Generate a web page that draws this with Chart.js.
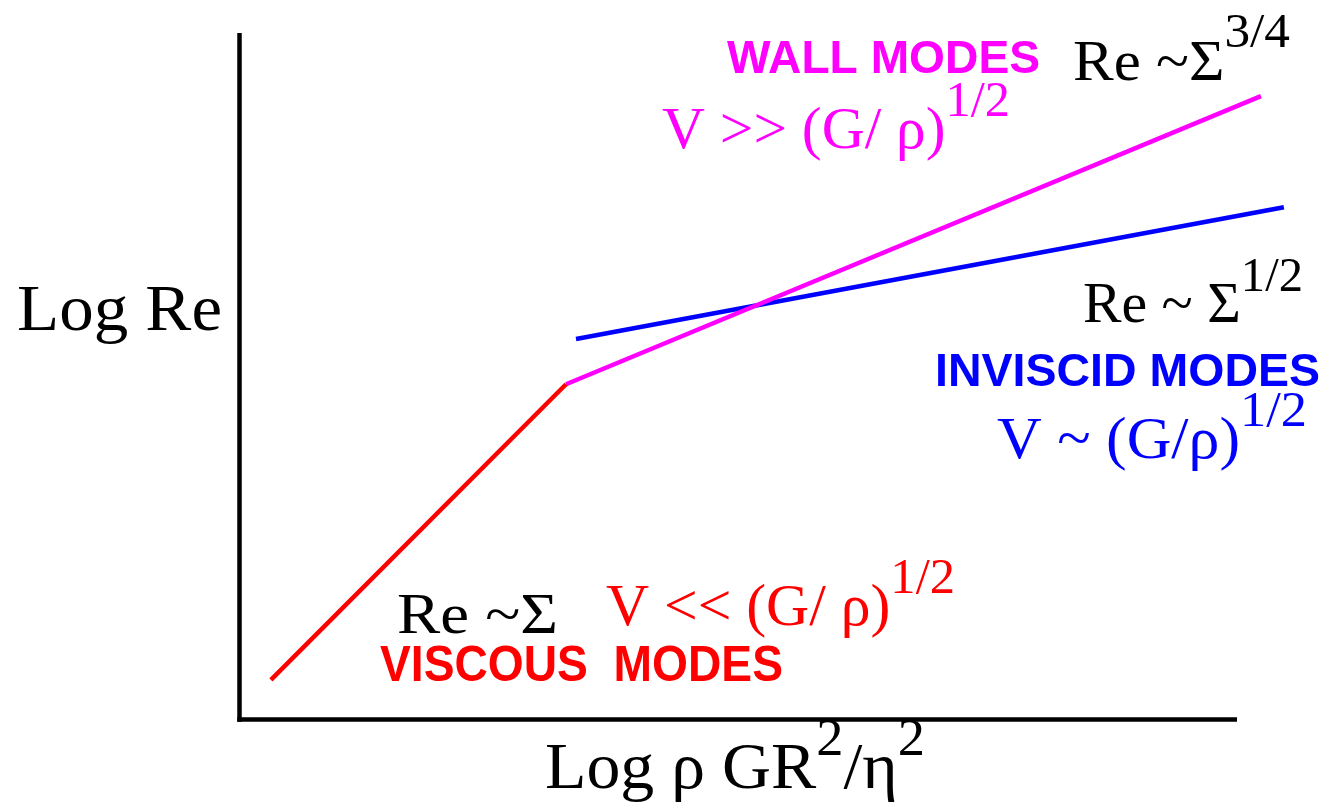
<!DOCTYPE html>
<html>
<head>
<meta charset="utf-8">
<script src="https://cdn.jsdelivr.net/npm/chart.js@4/dist/chart.umd.min.js"></script>
<style>
  html, body { margin: 0; padding: 0; background: #ffffff; }
  canvas { display: block; }
</style>
</head>
<body>
<canvas id="c" width="1323" height="812"></canvas>
<script>
// ---- Data (log-log schematic, arbitrary units) ----
const viscousX  = [0.31, 3.27];
const viscousY  = [0.57, 4.88];
const wallX     = [3.27, 10.24];
const wallY     = [4.88, 9.08];
const inviscidX = [3.37, 10.47];
const inviscidY = [5.54, 7.46];

const xAxisTitle = [["Log ", 1, 0], ["ρ", 1, 0], [" GR", 1, 0], ["2", 0.8, 0.5], ["/η", 1, 0], ["2", 0.8, 0.5]];
const yAxisTitle = [["Log Re", 1, 0]];

const SERIF = '"Liberation Serif", "Times New Roman", serif';
const SANS  = '"Liberation Sans", Arial, sans-serif';

// annotation texts: segments of [text, size factor, raise (em)]
const annotations = [
  { segs: [["WALL MODES", 1, 0]], color: "#ff00ff", font: SANS, bold: true },
  { segs: [["Re ~Σ", 1, 0], ["3/4", 0.85, 0.58]], color: "#000000", font: SERIF },
  { segs: [["V >> (G/ ρ)", 1, 0], ["1/2", 0.85, 0.55]], color: "#ff00ff", font: SERIF },
  { segs: [["Re ~ Σ", 1, 0], ["1/2", 0.85, 0.55]], color: "#000000", font: SERIF },
  { segs: [["INVISCID MODES", 1, 0]], color: "#0000ff", font: SANS, bold: true },
  { segs: [["V ~ (G/ρ)", 1, 0], ["1/2", 0.85, 0.55]], color: "#0000ff", font: SERIF },
  { segs: [["Re ~Σ", 1, 0]], color: "#000000", font: SERIF },
  { segs: [["V << (G/ ρ)", 1, 0], ["1/2", 0.85, 0.55]], color: "#ff0000", font: SERIF },
  { segs: [["VISCOUS  MODES", 1, 0]], color: "#ff0000", font: SANS, bold: true }
];
// layout of annotations: left x, baseline y, font size, total width (px)
const annotationLayout = [
  [727, 73, 47, 313],
  [1073, 80, 57, 217],
  [662, 148, 59, 348],
  [1083, 322, 57, 220],
  [935, 386, 47, 385],
  [997, 458, 59, 310],
  [397, 633, 58, 161],
  [606, 625, 59, 349],
  [380, 681, 50, 403]
];
const titleLayout = { x: [545, 788, 66, 380], y: [17, 330, 66, 205] };

function drawSegs(ctx, segs, family, bold, color, lay) {
  const [x, y, size, w] = lay;
  const fontFor = (f) => (bold ? "bold " : "") + Math.round(size * f) + "px " + family;
  let total = 0;
  const widths = segs.map(s => { ctx.font = fontFor(s[1]); const m = ctx.measureText(s[0]).width; total += m; return m; });
  const sx = w ? w / total : 1;
  ctx.save();
  ctx.translate(x, y);
  ctx.scale(sx, 1);
  ctx.fillStyle = color;
  ctx.textBaseline = "alphabetic";
  ctx.textAlign = "left";
  let cx = 0;
  segs.forEach((s, i) => {
    ctx.font = fontFor(s[1]);
    ctx.fillText(s[0], cx, -s[2] * size);
    cx += widths[i];
  });
  ctx.restore();
}

const schematicPlugin = {
  id: "schematic",
  afterDatasetsDraw(chart) {
    const ctx = chart.ctx;
    const xs = chart.scales.x, ys = chart.scales.y;
    ctx.save();
    ctx.strokeStyle = "#000000";
    ctx.lineWidth = 4.5;
    ctx.lineCap = "butt";
    const x0 = xs.getPixelForValue(xs.min) - 0.5;
    const yTop = ys.getPixelForValue(ys.max);
    const y0 = ys.getPixelForValue(ys.min) + 0.5;
    ctx.beginPath();
    ctx.moveTo(x0, yTop);
    ctx.lineTo(x0, y0 + 2.25);
    ctx.stroke();
    ctx.beginPath();
    ctx.moveTo(x0 - 2.25, y0);
    ctx.lineTo(xs.getPixelForValue(xs.max), y0);
    ctx.stroke();
    ctx.restore();

    drawSegs(ctx, xAxisTitle, SERIF, false, "#000000", titleLayout.x);
    drawSegs(ctx, yAxisTitle, SERIF, false, "#000000", titleLayout.y);
    annotations.forEach((a, i) => drawSegs(ctx, a.segs, a.font, !!a.bold, a.color, annotationLayout[i]));
  }
};

const toPts = (xs, ys) => xs.map((x, i) => ({ x: x, y: ys[i] }));

new Chart(document.getElementById("c"), {
  type: "scatter",
  data: {
    datasets: [
      { label: "Viscous modes", data: toPts(viscousX, viscousY), borderColor: "#ff0000", backgroundColor: "#ff0000" },
      { label: "Wall modes", data: toPts(wallX, wallY), borderColor: "#ff00ff", backgroundColor: "#ff00ff" },
      { label: "Inviscid modes", data: toPts(inviscidX, inviscidY), borderColor: "#0000ff", backgroundColor: "#0000ff" }
    ].map(d => Object.assign(d, { showLine: true, borderWidth: 4.5, pointRadius: 0, pointHoverRadius: 0, clip: false, tension: 0 }))
  },
  options: {
    responsive: false,
    devicePixelRatio: 1,
    animation: false,
    events: [],
    layout: { padding: { left: 240, top: 33, right: 86, bottom: 93 } },
    plugins: { legend: { display: false }, tooltip: { enabled: false }, title: { display: false } },
    scales: {
      x: { type: "linear", min: 0, max: 10, display: false },
      y: { type: "linear", min: 0, max: 10, display: false }
    }
  },
  plugins: [schematicPlugin]
});
</script>
</body>
</html>
